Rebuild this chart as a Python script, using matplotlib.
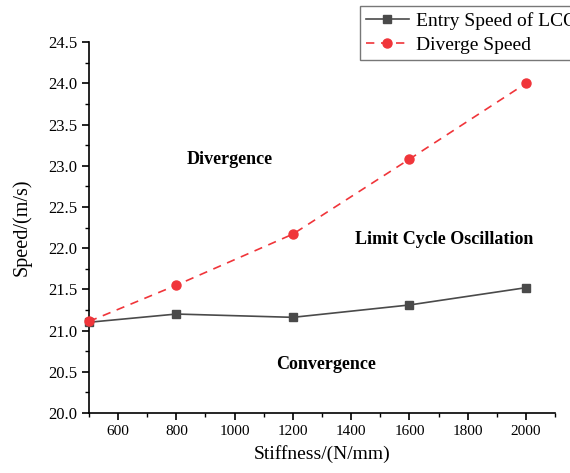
import matplotlib
matplotlib.use("Agg")
from matplotlib import pyplot as plt
from matplotlib.ticker import MultipleLocator, FormatStrFormatter

plt.rcParams['font.family'] = ['Liberation Serif', 'DejaVu Serif']

stiffness = [500, 800, 1200, 1600, 2000]
entry_speed = [21.10, 21.20, 21.16, 21.31, 21.52]
diverge_speed = [21.11, 21.55, 22.17, 23.08, 24.00]

fig = plt.figure(figsize=(5.7, 4.73), dpi=100)
ax = fig.add_axes([0.156, 0.127, 0.818, 0.784])

ax.plot(stiffness, entry_speed, color='#4a4a4a', lw=1.2, marker='s', ms=5.5,
        label='Entry Speed of LCO', clip_on=False, zorder=3)
ax.plot(stiffness, diverge_speed, color='#f0353a', lw=1.2, ls=(0, (5, 4)),
        marker='o', ms=6.5, label='Diverge Speed', clip_on=False, zorder=3)

ax.set_xlim(500, 2100)
ax.set_ylim(20.0, 24.5)
ax.set_xticks([600, 800, 1000, 1200, 1400, 1600, 1800, 2000])
ax.xaxis.set_minor_locator(MultipleLocator(100))
ax.yaxis.set_major_locator(MultipleLocator(0.5))
ax.yaxis.set_minor_locator(MultipleLocator(0.25))
ax.yaxis.set_major_formatter(FormatStrFormatter('%.1f'))

for s in ['top', 'right']:
    ax.spines[s].set_visible(False)
for s in ['left', 'bottom']:
    ax.spines[s].set_linewidth(1.2)
ax.tick_params(which='major', direction='out', length=5, width=1.2, labelsize=11)
ax.tick_params(axis='y', which='major', labelsize=12)
ax.tick_params(which='minor', direction='out', length=3, width=1.0)

ax.set_xlabel('Stiffness/(N/mm)', fontsize=14, labelpad=5)
ax.set_ylabel('Speed/(m/s)', fontsize=14.5, labelpad=12)

ax.text(984, 23.07, 'Divergence', fontsize=13, fontweight='bold', ha='center', va='center')
ax.text(1718, 22.10, 'Limit Cycle Oscillation', fontsize=13, fontweight='bold', ha='center', va='center')
ax.text(1313, 20.59, 'Convergence', fontsize=13, fontweight='bold', ha='center', va='center')

# legend runs off the right edge, as in the original figure
leg = fig.legend(loc='upper left', bbox_to_anchor=(360 / 570, 1 - 6 / 473),
                 fontsize=14, frameon=True, fancybox=False, edgecolor='#555555',
                 borderpad=0.3, labelspacing=0.35, handlelength=2.2, handletextpad=0.4,
                 borderaxespad=0)
leg.get_frame().set_linewidth(1.0)

fig.savefig('out.png', dpi=100)
